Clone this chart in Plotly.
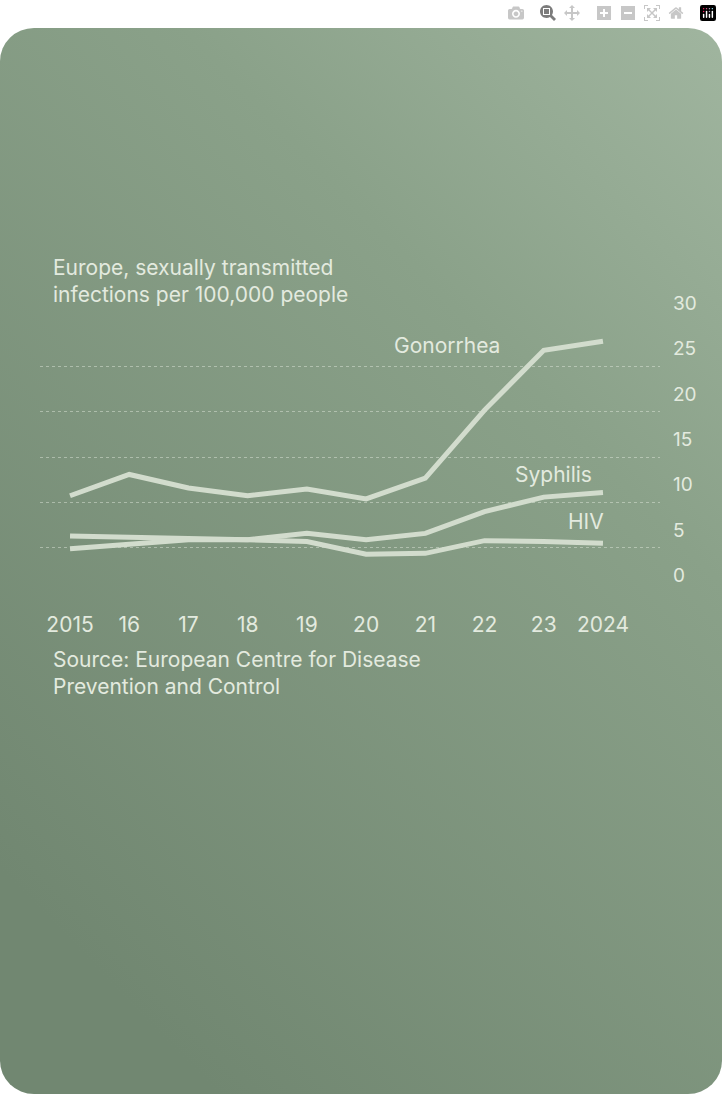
import plotly.graph_objects as go
import base64

years = [2015, 2016, 2017, 2018, 2019, 2020, 2021, 2022, 2023, 2024]
xtick_labels = ["2015", "16", "17", "18", "19", "20", "21", "22", "23", "2024"]
gonorrhea = [10.75, 13.1, 11.6, 10.75, 11.5, 10.4, 12.7, 20.2, 26.8, 27.8]
syphilis = [4.9, 5.4, 5.9, 5.9, 6.6, 5.9, 6.6, 9.0, 10.6, 11.1]
hiv = [6.3, 6.2, 6.1, 5.9, 5.7, 4.3, 4.4, 5.8, 5.7, 5.5]
ytick_vals = [0, 5, 10, 15, 20, 25, 30]

W, H = 722, 1094
svg = f'''<svg xmlns="http://www.w3.org/2000/svg" width="{W}" height="{H}">
<defs><linearGradient id="g" x1="1" y1="0" x2="0.3" y2="1">
<stop offset="0" stop-color="#a0b59f"/><stop offset="0.35" stop-color="#8aa189"/>
<stop offset="1" stop-color="#718771"/></linearGradient></defs>
<rect x="0" y="0" width="{W}" height="{H}" rx="34" ry="34" fill="url(#g)"/></svg>'''
uri = "data:image/svg+xml;base64," + base64.b64encode(svg.encode()).decode()

LINE = "#d2dccd"
TXT = "#e3eadf"
FONT = "Inter"

fig = go.Figure()
for name, vals in [("Gonorrhea", gonorrhea), ("Syphilis", syphilis), ("HIV", hiv)]:
    fig.add_trace(go.Scatter(x=years, y=vals, mode="lines", name=name,
                             line=dict(color=LINE, width=5), hoverinfo="skip"))

fig.update_layout(
    width=W, height=H, margin=dict(l=0, r=0, t=0, b=0),
    paper_bgcolor="white", plot_bgcolor="rgba(0,0,0,0)", showlegend=False,
    images=[dict(source=uri, xref="paper", yref="paper", x=0, y=1, sizex=1, sizey=1,
                 xanchor="left", yanchor="top", sizing="stretch", layer="below")],
    xaxis=dict(domain=[40 / W, 660 / W], range=[2014.493, 2024.963],
               tickvals=years, ticktext=xtick_labels, showgrid=False, zeroline=False,
               showline=False, tickfont=dict(family=FONT, size=21, color=TXT), ticks="",
               ticklabelstandoff=16),
    yaxis=dict(domain=[(H - 581) / H, (H - 300) / H], range=[-0.1, 30.1], side="right",
               tickvals=ytick_vals, showgrid=True, gridcolor="rgba(230,238,226,0.45)",
               griddash="dot", gridwidth=1.2, zeroline=False, showline=False, ticks="",
               tickfont=dict(family=FONT, size=19, color=TXT), ticklabelstandoff=12,
               ticklabelshift=-18),
)

ann = [
    dict(text="Europe, sexually transmitted<br>infections per 100,000 people",
         xref="paper", yref="paper", x=51 / W, y=1 - 231 / H, xanchor="left", yanchor="top",
         align="left", font=dict(family=FONT, size=21, color=TXT), showarrow=False),
    dict(text="Source: European Centre for Disease<br>Prevention and Control",
         xref="paper", yref="paper", x=51 / W, y=1 - 633 / H, xanchor="left", yanchor="top",
         align="left", font=dict(family=FONT, size=21, color=TXT), showarrow=False),
    dict(text="Gonorrhea", xref="x", yref="y", x=2022.3, y=27.3, xanchor="right",
         font=dict(family=FONT, size=21, color=TXT), showarrow=False),
    dict(text="Syphilis", xref="x", yref="y", x=2023.85, y=13.1, xanchor="right",
         font=dict(family=FONT, size=21, color=TXT), showarrow=False),
    dict(text="HIV", xref="x", yref="y", x=2024.05, y=7.9, xanchor="right",
         font=dict(family=FONT, size=21, color=TXT), showarrow=False),
]
fig.update_layout(annotations=ann)
fig.write_html("out.html",
               post_script="document.body.style.margin='0';document.body.style.overflow='hidden';")
